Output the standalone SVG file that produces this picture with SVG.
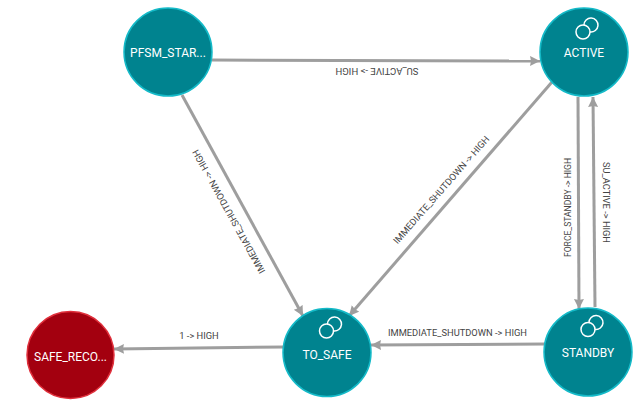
<svg xmlns="http://www.w3.org/2000/svg" width="640" height="403" viewBox="0 0 640 403">
<style>
.n{fill:#00838f;stroke:#14bac8;stroke-width:1.5}
.r{fill:#a3000f;stroke:#e0303c;stroke-width:1.5}
.t{font-family:Roboto,"Liberation Sans",sans-serif;font-size:12px;fill:#fff;text-anchor:middle}
.l{font-family:Roboto,"Liberation Sans",sans-serif;font-size:9.300px;fill:#444;text-anchor:middle}
.c{fill:none;stroke:#9e9e9e;stroke-width:3;marker-end:url(#a)}
.i{fill:none;stroke:#fff;stroke-width:1.500}
</style>
<defs>
<marker id="a" markerUnits="userSpaceOnUse" markerWidth="12" markerHeight="12" refX="10" refY="5" orient="auto"><path d="M0 0L10 5L0 10L1 5Z" fill="#9e9e9e"/></marker>
<g id="rings"><circle cx="-4" cy="3.500" r="7" class="i"/><path d="M-3 -3.430A7 7 0 1 1 3 3.430" class="i"/></g>
</defs>
<rect width="640" height="403" fill="#fff"/>
<g id="connectors">
<path class="c" d="M212 60L540 61"/>
<path class="c" d="M182 95L303 316"/>
<path class="c" d="M552 82L349 316"/>
<path class="c" d="M578 97L579 309"/>
<path class="c" d="M595 307L593 97"/>
<path class="c" d="M545 344L371 345"/>
<path class="c" d="M284 347L114 349"/>
<text class="l" transform="translate(377 68) rotate(180)" textLength="83" lengthAdjust="spacingAndGlyphs">SU_ACTIVE -&gt; HIGH</text>
<text class="l" transform="translate(229 211.500) rotate(241)" y="3" textLength="140" lengthAdjust="spacingAndGlyphs">IMMEDIATE_SHUTDOWN -&gt; HIGH</text>
<text class="l" transform="translate(441.500 190) rotate(-48.700)" y="3" textLength="140" lengthAdjust="spacingAndGlyphs">IMMEDIATE_SHUTDOWN -&gt; HIGH</text>
<text class="l" transform="translate(567.500 207.500) rotate(-90)" y="3" textLength="99" lengthAdjust="spacingAndGlyphs">FORCE_STANDBY -&gt; HIGH</text>
<text class="l" transform="translate(605.500 202.500) rotate(90)" y="3" textLength="81" lengthAdjust="spacingAndGlyphs">SU_ACTIVE -&gt; HIGH</text>
<text class="l" x="457.500" y="336" textLength="139" lengthAdjust="spacingAndGlyphs">IMMEDIATE_SHUTDOWN -&gt; HIGH</text>
<text class="l" x="199" y="339">1 -&gt; HIGH</text>
</g>
<g id="pfsm"><circle class="n" cx="168" cy="52" r="44"/><text class="t" x="168" y="56.500">PFSM_STAR...</text></g>
<g id="active"><circle class="n" cx="584" cy="52" r="44"/><use href="#rings" x="587" y="28.500"/><text class="t" x="584" y="57">ACTIVE</text></g>
<g id="standby"><circle class="n" cx="588" cy="352" r="44"/><use href="#rings" x="592" y="326"/><text class="t" x="588" y="356.500">STANDBY</text></g>
<g id="to_safe"><circle class="n" cx="327" cy="352.500" r="44"/><use href="#rings" x="330.500" y="327.500"/><text class="t" x="327" y="358.500">TO_SAFE</text></g>
<g id="safe"><circle class="r" cx="70.500" cy="355" r="43.500"/><text class="t" x="70.500" y="361">SAFE_RECO...</text></g>
</svg>
